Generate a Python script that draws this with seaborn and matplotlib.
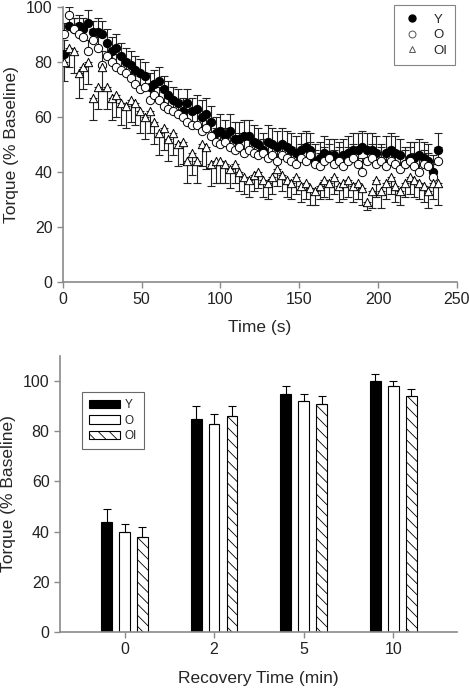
import numpy as np
import pandas as pd
import matplotlib
matplotlib.use("Agg")
import matplotlib.pyplot as plt
import seaborn as sns
from matplotlib.lines import Line2D
from matplotlib.patches import Patch

# ---- top panel: torque during fatigue task ----
time_s = [1, 4, 7, 10, 13, 16, 19, 22, 25, 28, 31, 34, 37, 40, 43, 46, 49, 52, 55, 58,
          61, 64, 67, 70, 73, 76, 79, 82, 85, 88, 91, 94, 97, 100, 103, 106, 109, 112, 115, 118,
          121, 124, 127, 130, 133, 136, 139, 142, 145, 148, 151, 154, 157, 160, 163, 166, 169, 172, 175, 178,
          181, 184, 187, 190, 193, 196, 199, 202, 205, 208, 211, 214, 217, 220, 223, 226, 229, 232, 235, 238]

y_mean = [83, 93, 92, 93, 92, 94, 91, 91, 90, 87, 84, 85, 82, 80, 79, 77, 76, 75, 71, 72,
          73, 70, 68, 66, 65, 62, 65, 62, 63, 60, 61, 58, 54, 55, 53, 55, 52, 52, 53, 53,
          51, 50, 48, 51, 50, 49, 50, 49, 48, 47, 48, 49, 48, 44, 45, 47, 46, 46, 45, 46,
          47, 48, 48, 49, 48, 48, 47, 44, 47, 48, 47, 46, 43, 45, 45, 46, 45, 44, 40, 48]
y_err = [5, 4, 4, 4, 4, 5, 4, 5, 5, 5, 5, 5, 5, 5, 5, 5, 5, 5, 5, 5,
         5, 5, 5, 5, 5, 5, 5, 5, 5, 6, 6, 6, 6, 6, 6, 6, 6, 6, 6, 6,
         6, 6, 6, 6, 6, 6, 6, 6, 6, 6, 6, 6, 6, 6, 6, 6, 6, 6, 6, 6,
         6, 6, 6, 6, 6, 6, 6, 6, 6, 6, 6, 6, 6, 6, 6, 6, 6, 6, 6, 6]

o_mean = [90, 97, 92, 90, 89, 84, 88, 85, 79, 82, 80, 78, 77, 76, 74, 72, 70, 71, 66, 68,
          66, 64, 63, 62, 61, 60, 58, 57, 57, 55, 56, 53, 51, 50, 51, 49, 48, 49, 47, 48,
          47, 46, 47, 45, 46, 44, 46, 45, 44, 43, 45, 44, 46, 43, 42, 44, 45, 43, 44, 42,
          44, 45, 43, 40, 44, 45, 43, 44, 42, 44, 43, 41, 43, 44, 42, 40, 43, 42, 38, 44]
o_err = [4, 3, 4, 4, 4, 4, 4, 4, 5, 5, 5, 5, 5, 5, 5, 5, 5, 5, 5, 5,
         5, 5, 5, 5, 5, 5, 5, 5, 5, 5, 5, 5, 5, 5, 5, 5, 5, 5, 5, 5,
         5, 5, 5, 5, 5, 5, 5, 5, 5, 5, 5, 5, 5, 5, 5, 5, 5, 5, 5, 5,
         5, 5, 5, 5, 5, 5, 5, 5, 5, 5, 5, 5, 5, 5, 5, 5, 5, 5, 5, 5]

oi_mean = [80, 85, 84, 76, 78, 80, 67, 71, 78, 71, 67, 68, 65, 64, 66, 65, 62, 60, 62, 58,
           54, 56, 52, 54, 50, 51, 44, 47, 44, 50, 49, 43, 44, 44, 43, 41, 43, 40, 38, 37,
           39, 40, 37, 36, 38, 41, 39, 37, 36, 38, 35, 36, 34, 33, 35, 37, 36, 38, 35, 36,
           37, 35, 36, 34, 29, 33, 37, 33, 36, 38, 35, 33, 36, 38, 37, 36, 35, 33, 36, 36]
oi_err = [7, 7, 8, 9, 8, 8, 8, 8, 8, 8, 8, 8, 8, 8, 8, 8, 8, 8, 8, 8,
          8, 8, 8, 8, 8, 8, 8, 8, 8, 8, 8, 8, 8, 8, 7, 7, 7, 7, 6, 6,
          6, 6, 6, 6, 6, 6, 6, 6, 6, 6, 6, 6, 6, 5, 5, 6, 6, 6, 6, 6,
          6, 6, 6, 6, 3, 6, 6, 6, 6, 6, 6, 5, 5, 6, 6, 6, 6, 6, 6, 8]

# ---- bottom panel: recovery ----
recovery = ["0", "2", "5", "10"]
groups = ["Y", "O", "OI"]
rec_y = [44, 85, 95, 100]
rec_y_err = [5, 5, 3, 3]
rec_o = [40, 83, 92, 98]
rec_o_err = [3, 4, 3, 2]
rec_oi = [38, 86, 91, 94]
rec_oi_err = [4, 4, 3, 3]

sns.set_style("ticks")
plt.rcParams['font.family'] = ['Liberation Sans', 'DejaVu Sans']
plt.rcParams['hatch.linewidth'] = 0.6
spine_col = "#8a8a8a"

fig = plt.figure(figsize=(4.69, 6.89), dpi=100)
ax1 = fig.add_axes([0.134, 0.591, 0.840, 0.399])
ax2 = fig.add_axes([0.128, 0.083, 0.846, 0.400])

# top panel
series = [
    ("Y", y_mean, y_err, "o", "black", "up"),
    ("O", o_mean, o_err, "o", "white", "up"),
    ("OI", oi_mean, oi_err, "^", "white", "down"),
]
for name, m, e, mk, fc, side in series:
    m = np.array(m, dtype=float)
    e = np.array(e, dtype=float)
    yerr = [np.zeros_like(e), e] if side == "up" else [e, np.zeros_like(e)]
    ax1.errorbar(time_s, m, yerr=yerr, fmt="none", ecolor="#222222",
                 elinewidth=0.8, capsize=3.2, capthick=0.8, zorder=2)
    sns.scatterplot(x=time_s, y=m, marker=mk, s=36, color=fc, edgecolor="black",
                    linewidth=0.7, ax=ax1, zorder=3)

ax1.set_xlim(0, 250)
ax1.set_ylim(0, 100)
ax1.set_xticks([0, 50, 100, 150, 200, 250])
ax1.set_yticks([0, 20, 40, 60, 80, 100])
ax1.set_xlabel("Time (s)", fontsize=12.5, labelpad=9)
ax1.set_ylabel("Torque (% Baseline)", fontsize=12.5, labelpad=5)

handles1 = [
    Line2D([], [], ls="none", marker="o", ms=5, mfc="black", mec="black"),
    Line2D([], [], ls="none", marker="o", ms=5, mfc="white", mec="#555555", mew=0.7),
    Line2D([], [], ls="none", marker="^", ms=5, mfc="white", mec="#555555", mew=0.7),
]
leg1 = ax1.legend(handles1, groups, loc="upper right", bbox_to_anchor=(1.0, 1.01),
                  borderaxespad=0.1, fontsize=9.5, frameon=True, fancybox=False,
                  edgecolor="#666666", handletextpad=0.8, borderpad=0.6,
                  labelspacing=0.25, handlelength=1.6)
leg1.get_frame().set_linewidth(0.8)

# bottom panel
df = pd.DataFrame({
    "recovery": recovery * 3,
    "group": ["Y"] * 4 + ["O"] * 4 + ["OI"] * 4,
    "torque": rec_y + rec_o + rec_oi,
})
sns.barplot(data=df, x="recovery", y="torque", hue="group", order=recovery,
            hue_order=groups, width=0.6, gap=0.4, errorbar=None,
            palette=["black", "white", "white"], edgecolor="black",
            linewidth=0.8, legend=False, ax=ax2)

errs = [rec_y_err, rec_o_err, rec_oi_err]
hatches = [None, None, "\\\\\\"]
for cont, err, h in zip(ax2.containers, errs, hatches):
    xs, tops = [], []
    for bar in cont:
        if h:
            bar.set_hatch(h)
        xs.append(bar.get_x() + bar.get_width() / 2)
        tops.append(bar.get_height())
    ax2.errorbar(xs, tops, yerr=[np.zeros(len(err)), err], fmt="none",
                 ecolor="black", elinewidth=0.8, capsize=3.2, capthick=0.8, zorder=3)

ax2.set_xlim(-0.72, 3.71)
ax2.set_ylim(0, 110)
ax2.set_yticks([0, 20, 40, 60, 80, 100])
ax2.set_xlabel("Recovery Time (min)", fontsize=12.5, labelpad=10)
ax2.set_ylabel("Torque (% Baseline)", fontsize=12.5, labelpad=5)

handles2 = [
    Patch(facecolor="black", edgecolor="black", lw=0.8),
    Patch(facecolor="white", edgecolor="black", lw=0.8),
    Patch(facecolor="white", edgecolor="black", lw=0.8, hatch="\\\\\\"),
]
leg2 = ax2.legend(handles2, groups, loc="upper left", bbox_to_anchor=(0.055, 0.87),
                  borderaxespad=0.0, fontsize=8.5, frameon=True, fancybox=False,
                  edgecolor="#444444", handlelength=2.6, handleheight=0.7,
                  handletextpad=0.4, labelspacing=0.3, borderpad=0.6)
leg2.get_frame().set_linewidth(0.8)

for ax in (ax1, ax2):
    sns.despine(ax=ax)
    for sp in ("left", "bottom"):
        ax.spines[sp].set_color(spine_col)
        ax.spines[sp].set_linewidth(1.2)
    ax.tick_params(colors=spine_col, labelcolor="#222222", labelsize=11.5,
                   length=4, width=1.0)

fig.savefig("out.png", dpi=100)
